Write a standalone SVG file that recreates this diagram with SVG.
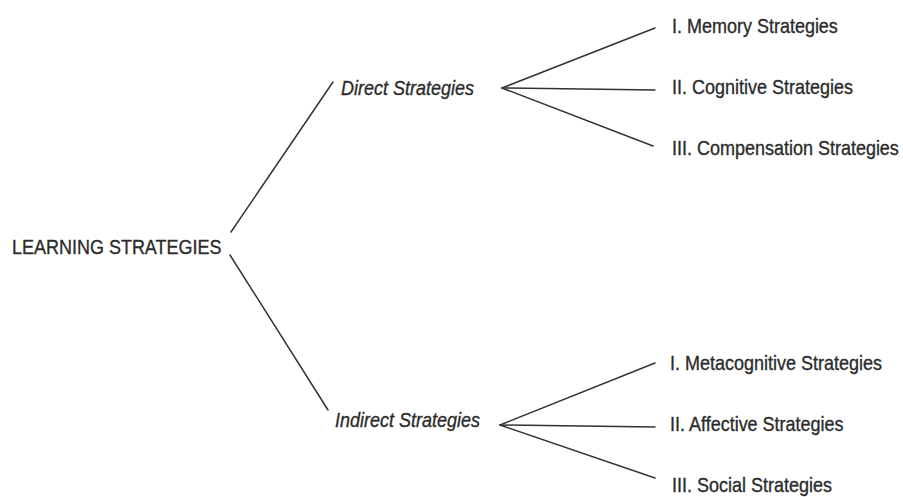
<svg xmlns="http://www.w3.org/2000/svg" width="903" height="497" viewBox="0 0 903 497">
<style>
.t{font-family:"Liberation Sans",Arial,sans-serif;font-size:18px;fill:#2b2b2b;stroke:#2b2b2b;stroke-width:0.3}
.i{font-style:italic}
.c line{stroke:#333;stroke-width:1.5;stroke-linecap:round}
</style>
<rect width="903" height="497" fill="#ffffff"/>
<g id="connectors" class="c">
<line x1="231" y1="232" x2="333" y2="82"/>
<line x1="230" y1="255" x2="328" y2="410"/>
<line x1="502" y1="88" x2="655" y2="28"/>
<line x1="502" y1="88" x2="655" y2="90"/>
<line x1="502" y1="88" x2="653" y2="146"/>
<line x1="500" y1="425" x2="655" y2="363"/>
<line x1="500" y1="425" x2="655" y2="427"/>
<line x1="500" y1="425" x2="655" y2="478"/>
</g>
<g id="root" transform="translate(12,254) scale(1,1.15)"><text class="t" x="0" y="0">LEARNING STRATEGIES</text></g>
<g id="direct" transform="translate(341,95) scale(1,1.15)"><text class="t i" x="0" y="0">Direct Strategies</text></g>
<g id="indirect" transform="translate(335,427) scale(1,1.15)"><text class="t i" x="0" y="0">Indirect Strategies</text></g>
<g id="memory" transform="translate(672,33) scale(1,1.15)"><text class="t" x="0" y="0">I. Memory Strategies</text></g>
<g id="cognitive" transform="translate(672,94) scale(1,1.15)"><text class="t" x="0" y="0">II. Cognitive Strategies</text></g>
<g id="compensation" transform="translate(672,155) scale(1,1.15)"><text class="t" x="0" y="0">III. Compensation Strategies</text></g>
<g id="metacognitive" transform="translate(670,370) scale(1,1.15)"><text class="t" x="0" y="0">I. Metacognitive Strategies</text></g>
<g id="affective" transform="translate(670,431) scale(1,1.15)"><text class="t" x="0" y="0">II. Affective Strategies</text></g>
<g id="social" transform="translate(672,492) scale(1,1.15)"><text class="t" x="0" y="0">III. Social Strategies</text></g>
</svg>
